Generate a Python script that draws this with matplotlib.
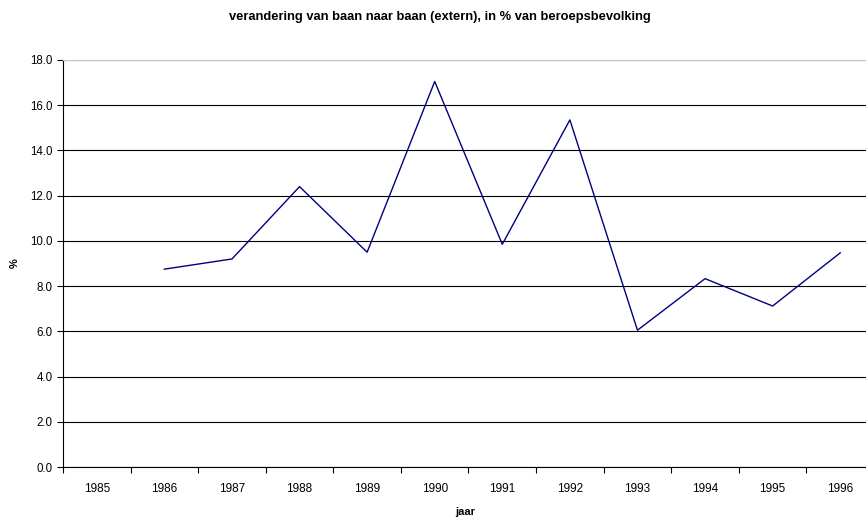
import matplotlib
matplotlib.use("Agg")
import matplotlib.pyplot as plt

years = ["1985", "1986", "1987", "1988", "1989", "1990", "1991", "1992", "1993", "1994", "1995", "1996"]
values = [None, 8.75, 9.2, 12.4, 9.5, 17.05, 9.85, 15.35, 6.05, 8.33, 7.12, 9.47]
yticks = [0, 2, 4, 6, 8, 10, 12, 14, 16, 18]

plt.rcParams['font.family'] = ['Liberation Sans', 'DejaVu Sans']

fig = plt.figure(figsize=(8.66, 5.22), dpi=100)
ax = fig.add_axes([63/866, 1-467/522, (874-63)/866, (467-60)/522])

xs = [i for i, v in enumerate(values) if v is not None]
ys = [v for v in values if v is not None]
ax.plot(xs, ys, color='#000080', linewidth=1.0, zorder=3)

ax.set_xlim(-0.5, len(years) - 0.5)
ax.set_ylim(0, 18)
ax.set_yticks(yticks)
ax.set_yticklabels([f"{t:.1f}" for t in yticks], fontsize=8.3)
ax.yaxis.grid(True, color='black', linewidth=0.8)
ax.set_axisbelow(True)

ax.set_xticks([i - 0.5 for i in range(len(years) + 1)])
ax.set_xticklabels([])
ax.set_xticks(range(len(years)), minor=True)
ax.set_xticklabels(years, minor=True, fontsize=8.5)
ax.tick_params(axis='x', which='minor', length=0, pad=11.5)
ax.tick_params(axis='x', which='major', direction='out', length=4, width=0.8)
ax.tick_params(axis='y', direction='out', length=4, width=0.8)

ax.spines['top'].set_color('#c8c8c8')
ax.spines['right'].set_visible(False)
for s in ['left', 'bottom']:
    ax.spines[s].set_linewidth(0.8)

fig.text(440/866, 1-17/522, "verandering van baan naar baan (extern), in % van beroepsbevolking",
         ha='center', va='center', fontsize=9.3, fontweight='bold')
fig.text(465/866, 1-512/522, "jaar", ha='center', va='center', fontsize=8, fontweight='bold')
fig.text(15/866, 1-263/522, "%", ha='center', va='center', fontsize=8, fontweight='bold', rotation=90)

fig.savefig("out.png", dpi=100)
